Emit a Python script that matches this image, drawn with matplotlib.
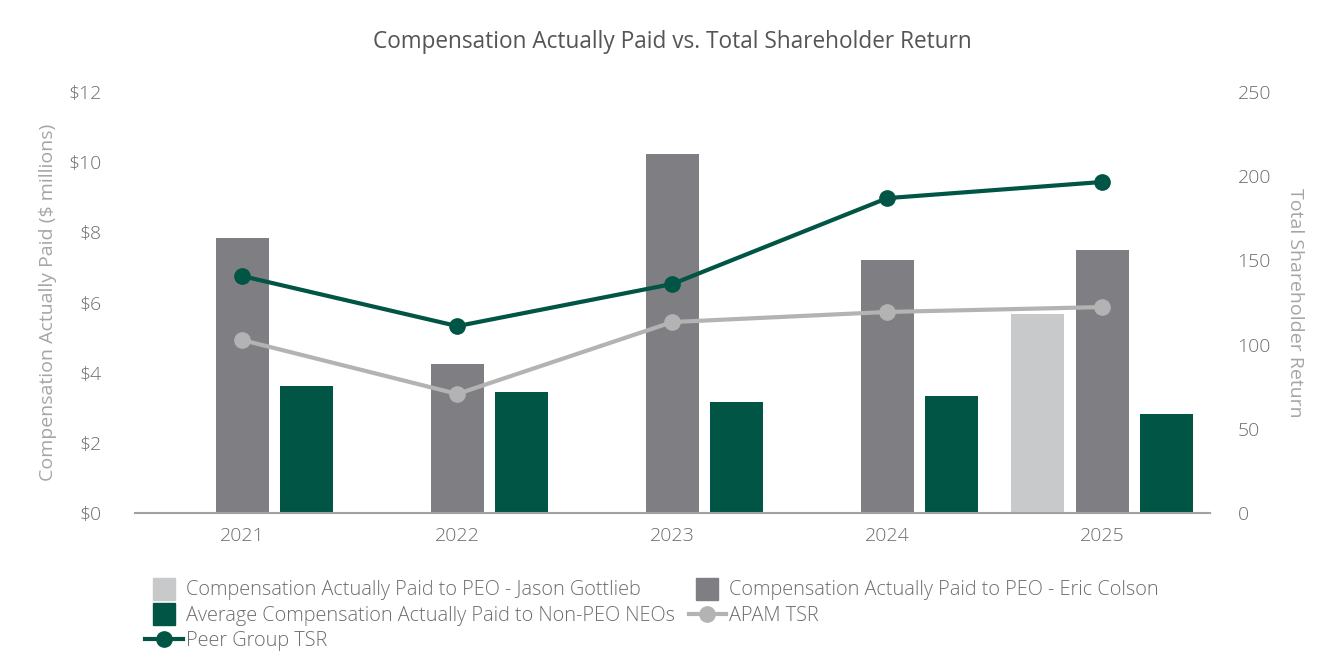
import matplotlib
matplotlib.use('Agg')
import matplotlib.pyplot as plt
import numpy as np
from matplotlib.lines import Line2D

plt.rcParams['font.family'] = ['Open Sans', 'DejaVu Sans']
plt.rcParams['font.weight'] = 'light'

years = ['2021', '2022', '2023', '2024', '2025']
cap_gottlieb = [0, 0, 0, 0, 5.67]
cap_colson = [7.84, 4.25, 10.23, 7.21, 7.50]
cap_non_peo = [3.62, 3.45, 3.16, 3.34, 2.82]
apam_tsr = [102.7, 70.7, 113.4, 119.4, 122.3]
peer_tsr = [140.7, 111.0, 136.0, 187.0, 196.6]

c_gottlieb = '#c8c9ca'
c_colson = '#7f7e83'
c_green = '#005544'
c_apam = '#b3b3b3'
c_text = '#6d6d6d'
c_label = '#a5a5a5'

fig = plt.figure(figsize=(13.44, 6.72), dpi=100)
ax = fig.add_axes([0.1004, 0.2366, 0.7996, 0.6264])
ax2 = ax.twinx()

x = np.arange(len(years))
w = 0.247
off = 0.3
ax.bar(x - off, cap_gottlieb, w, color=c_gottlieb, zorder=2)
ax.bar(x, cap_colson, w, color=c_colson, zorder=2)
ax.bar(x + off, cap_non_peo, w, color=c_green, zorder=2)

ax2.plot(x, apam_tsr, color=c_apam, lw=3, marker='o', ms=11, zorder=3)
ax2.plot(x, peer_tsr, color=c_green, lw=3, marker='o', ms=11, zorder=3)

ax.set_xlim(-0.5, 4.5)
ax.set_ylim(0, 12)
ax2.set_ylim(0, 250)
ax.set_yticks(range(0, 13, 2))
ax.set_yticklabels([f'${v}' for v in range(0, 13, 2)])
ax2.set_yticks(range(0, 251, 50))
ax.set_xticks(x)
ax.set_xticklabels(years)

for a in (ax, ax2):
    for s in a.spines.values():
        s.set_visible(False)
    a.tick_params(length=0, labelsize=14, labelcolor=c_text)
ax.spines['bottom'].set_visible(True)
ax.spines['bottom'].set_color('#a0a0a0')
ax.spines['bottom'].set_linewidth(1.5)
ax.tick_params(axis='y', pad=24)
ax.tick_params(axis='x', pad=10)
ax2.tick_params(axis='y', pad=20)

ax.set_ylabel('Compensation Actually Paid ($ millions)', fontsize=14, color=c_label, labelpad=8)
ax2.set_ylabel('Total Shareholder Return', fontsize=14, color=c_label, rotation=270, labelpad=24)

fig.suptitle('Compensation Actually Paid vs. Total Shareholder Return', fontsize=16.3,
             color='#555555', y=0.955)

sq = 15.5
handles = [
    Line2D([], [], ls='none', marker='s', ms=sq, color=c_gottlieb,
           label='Compensation Actually Paid to PEO - Jason Gottlieb'),
    Line2D([], [], ls='none', marker='s', ms=sq, color=c_green,
           label='Average Compensation Actually Paid to Non-PEO NEOs'),
    Line2D([], [], color=c_green, lw=3, marker='o', ms=11, label='Peer Group TSR'),
    Line2D([], [], ls='none', marker='s', ms=sq, color=c_colson,
           label='Compensation Actually Paid to PEO - Eric Colson'),
    Line2D([], [], color=c_apam, lw=3, marker='o', ms=11, label='APAM TSR'),
]
leg = fig.legend(handles=handles, ncol=2, loc='upper left', bbox_to_anchor=(0.1005, 0.151),
                 frameon=False, fontsize=14.3, handlelength=1.9,
                 labelspacing=0.26, columnspacing=0.7, handletextpad=0.15, borderpad=0)
for t in leg.get_texts():
    t.set_color(c_text)

fig.savefig('out.png', dpi=100)
